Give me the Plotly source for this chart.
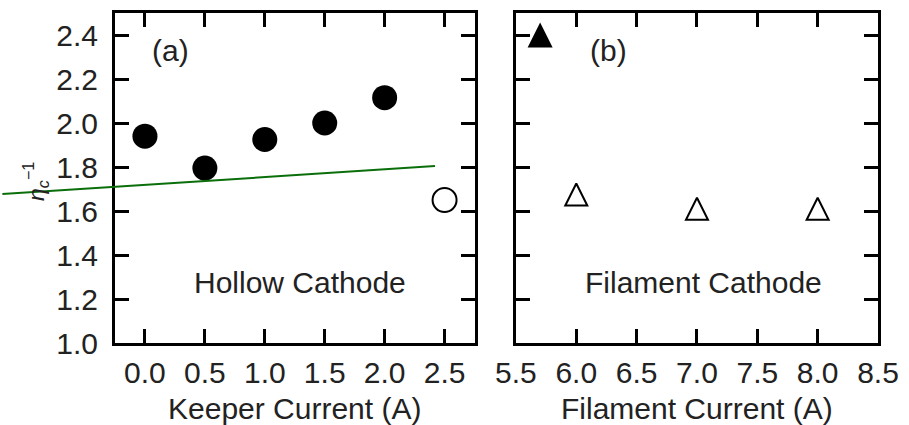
import plotly.graph_objects as go

# ---- data ----
keeper_current = [0.0, 0.5, 1.0, 1.5, 2.0]
keeper_eta_inv = [1.94, 1.795, 1.925, 2.00, 2.115]
keeper_open_current = [2.5]
keeper_open_eta_inv = [1.65]

filament_filled_current = [5.7]
filament_filled_eta_inv = [2.40]
filament_open_current = [6.0, 7.0, 8.0]
filament_open_eta_inv = [1.675, 1.61, 1.61]

# green guide line overlaid on panel (a), in panel-(a) data units
guide_x = [-1.19, 2.42]
guide_y = [1.677, 1.804]

x1_ticks = [0.0, 0.5, 1.0, 1.5, 2.0, 2.5]
x1_ticklabels = ["0.0", "0.5", "1.0", "1.5", "2.0", "2.5"]
x2_ticks = [5.5, 6.0, 6.5, 7.0, 7.5, 8.0, 8.5]
x2_ticklabels = ["5.5", "6.0", "6.5", "7.0", "7.5", "8.0", "8.5"]
y_ticks = [1.0, 1.2, 1.4, 1.6, 1.8, 2.0, 2.2, 2.4]
y_ticklabels = ["1.0", "1.2", "1.4", "1.6", "1.8", "2.0", "2.2", "2.4"]

# ---- layout constants ----
W, H = 909, 425
ML, MR, MT, MB = 115, 29, 10, 82
X1_RANGE = [-0.25, 2.75]
X2_RANGE = [5.5, 8.5]
Y_RANGE = [1.0, 2.5]
X1_DOMAIN = [0.0, 0.4712]
X2_DOMAIN = [0.5255, 1.0]

FONT = "Liberation Sans, Arial, Helvetica, sans-serif"
TXT = "#222222"
FS = 30

fig = go.Figure()

fig.add_trace(go.Scatter(
    x=keeper_current, y=keeper_eta_inv, mode="markers",
    marker=dict(symbol="circle", size=25, color="black", line=dict(width=0)),
    xaxis="x", yaxis="y", showlegend=False, cliponaxis=False))
fig.add_trace(go.Scatter(
    x=keeper_open_current, y=keeper_open_eta_inv, mode="markers",
    marker=dict(symbol="circle-open", size=24, color="black", line=dict(width=2, color="black")),
    xaxis="x", yaxis="y", showlegend=False, cliponaxis=False))
fig.add_trace(go.Scatter(
    x=filament_filled_current, y=filament_filled_eta_inv, mode="markers",
    marker=dict(symbol="arrow-down", angle=180, standoff=12.5, size=25, color="black",
                line=dict(width=0)),
    xaxis="x2", yaxis="y2", showlegend=False, cliponaxis=False))
fig.add_trace(go.Scatter(
    x=filament_open_current, y=filament_open_eta_inv, mode="markers",
    marker=dict(symbol="arrow-down-open", angle=180, standoff=11, size=22, color="black",
                line=dict(width=2, color="black")),
    xaxis="x2", yaxis="y2", showlegend=False, cliponaxis=False))

axis_common = dict(
    showline=True, linewidth=3, linecolor="black", mirror="ticks",
    ticks="inside", ticklen=14, tickwidth=2.5, tickcolor="black",
    showgrid=False, zeroline=False,
    tickfont=dict(family=FONT, size=FS, color=TXT),
)

fig.update_layout(
    width=W, height=H,
    margin=dict(l=ML, r=MR, t=MT, b=MB),
    paper_bgcolor="white", plot_bgcolor="white",
    showlegend=False,
    xaxis=dict(domain=X1_DOMAIN, range=X1_RANGE, tickmode="array",
               tickvals=x1_ticks, ticktext=x1_ticklabels, anchor="y",
               ticklabelstandoff=1, **axis_common),
    xaxis2=dict(domain=X2_DOMAIN, range=X2_RANGE, tickmode="array",
                tickvals=x2_ticks, ticktext=x2_ticklabels, anchor="y2",
                ticklabelstandoff=1, **axis_common),
    yaxis=dict(domain=[0, 1], range=Y_RANGE, tickmode="array",
               tickvals=y_ticks, ticktext=y_ticklabels, anchor="x",
               ticklabelstandoff=8, **axis_common),
    yaxis2=dict(domain=[0, 1], range=Y_RANGE, tickmode="array",
                tickvals=y_ticks, ticktext=y_ticklabels, anchor="x2",
                showticklabels=False, **axis_common),
)

def to_paper_x(v, rng, dom):
    return dom[0] + (v - rng[0]) / (rng[1] - rng[0]) * (dom[1] - dom[0])

def to_paper_y(v, rng):
    return (v - rng[0]) / (rng[1] - rng[0])

fig.add_shape(type="line", xref="paper", yref="paper", layer="above",
              x0=to_paper_x(guide_x[0], X1_RANGE, X1_DOMAIN), y0=to_paper_y(guide_y[0], Y_RANGE),
              x1=to_paper_x(guide_x[1], X1_RANGE, X1_DOMAIN), y1=to_paper_y(guide_y[1], Y_RANGE),
              line=dict(color="#0a6e0a", width=2))

ann_font = dict(family=FONT, size=FS, color=TXT)
fig.add_annotation(text="(a)", x=0.21, y=2.33, xref="x", yref="y", showarrow=False,
                   font=ann_font, xanchor="center", yanchor="middle")
fig.add_annotation(text="(b)", x=6.27, y=2.33, xref="x2", yref="y2", showarrow=False,
                   font=ann_font, xanchor="center", yanchor="middle")
fig.add_annotation(text="Hollow Cathode", x=1.29, y=1.275, xref="x", yref="y", showarrow=False,
                   font=ann_font, xanchor="center", yanchor="middle")
fig.add_annotation(text="Filament Cathode", x=7.05, y=1.275, xref="x2", yref="y2", showarrow=False,
                   font=ann_font, xanchor="center", yanchor="middle")

# axis titles
fig.add_annotation(text="Keeper Current (A)", x=sum(X1_DOMAIN) / 2, y=-0.198,
                   xref="paper", yref="paper", showarrow=False, font=ann_font,
                   xanchor="center", yanchor="middle")
fig.add_annotation(text="Filament Current (A)", x=sum(X2_DOMAIN) / 2, y=-0.198,
                   xref="paper", yref="paper", showarrow=False, font=ann_font,
                   xanchor="center", yanchor="middle")
fig.add_annotation(text="<i>η</i><sub><i>c</i></sub><sup>−1</sup>", x=-0.104, y=0.49,
                   xref="paper", yref="paper", showarrow=False, textangle=-90,
                   font=dict(family=FONT, size=23, color=TXT),
                   xanchor="center", yanchor="middle")

fig.write_html("out.html")
